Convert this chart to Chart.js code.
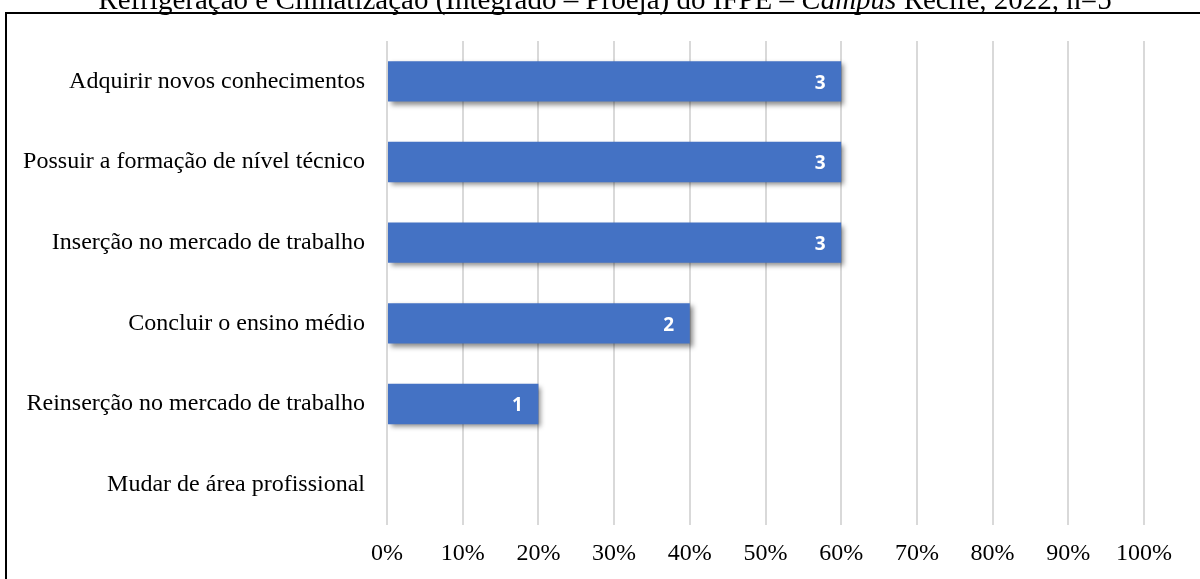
<!DOCTYPE html>
<html lang="pt-BR">
<head>
<meta charset="utf-8">
<title>Motivos para cursar</title>
<script src="https://cdn.jsdelivr.net/npm/chart.js@4.4.1/dist/chart.umd.min.js"></script>
<style>
  html, body { margin: 0; padding: 0; background: #fff; }
  #wrap { width: 1200px; height: 579px; position: relative; }
</style>
</head>
<body>
<div id="wrap"><canvas id="grafico" width="1200" height="579"></canvas></div>
<script>
// dados
const categorias = [
    'Adquirir novos conhecimentos',
    'Possuir a formação de nível técnico',
    'Inserção no mercado de trabalho',
    'Concluir o ensino médio',
    'Reinserção no mercado de trabalho',
    'Mudar de área profissional'
];
const respostas = [3, 3, 3, 2, 1, 0]; // quantidade de alunos
const totalAlunos = 5;
const ticksX = ['0%', '10%', '20%', '30%', '40%', '50%', '60%', '70%', '80%', '90%', '100%'];
const tituloPartes = [
    { texto: 'Refrigeração e Climatização (Integrado – Proeja) do IFPE – ', italico: false },
    { texto: 'Campus', italico: true },
    { texto: ' Recife, 2022, n=5', italico: false }
];

const porcentagens = respostas.map(r => r / totalAlunos * 100);

const serif = '"Liberation Serif", "Times New Roman", serif';

// moldura e titulo cortado no topo
const molduraPlugin = {
    id: 'moldura',
    afterDraw(chart) {
        const ctx = chart.ctx;
        ctx.save();
        ctx.strokeStyle = '#000';
        ctx.lineWidth = 2;
        ctx.strokeRect(6, 13, 1240, 620);

        const tam = 29;
        let largura = 0;
        tituloPartes.forEach(p => {
            ctx.font = (p.italico ? 'italic ' : '') + tam + 'px ' + serif;
            largura += ctx.measureText(p.texto).width;
        });
        let x = 605 - largura / 2;
        ctx.fillStyle = '#000';
        ctx.textBaseline = 'alphabetic';
        ctx.textAlign = 'left';
        tituloPartes.forEach(p => {
            ctx.font = (p.italico ? 'italic ' : '') + tam + 'px ' + serif;
            ctx.fillText(p.texto, x, 9);
            x += ctx.measureText(p.texto).width;
        });
        ctx.restore();
    }
};

// sombra das barras
const sombraPlugin = {
    id: 'sombra',
    beforeDatasetsDraw(chart) {
        const ctx = chart.ctx;
        ctx.save();
        ctx.shadowColor = 'rgba(0,0,0,0.45)';
        ctx.shadowBlur = 5;
        ctx.shadowOffsetX = 3;
        ctx.shadowOffsetY = 3;
    },
    afterDatasetsDraw(chart) {
        chart.ctx.restore();
        // rotulos dentro da barra
        const ctx = chart.ctx;
        ctx.save();
        ctx.font = 'bold 19px "Open Sans", "DejaVu Sans", sans-serif';
        ctx.fillStyle = '#fff';
        ctx.textAlign = 'center';
        ctx.textBaseline = 'middle';
        chart.getDatasetMeta(0).data.forEach((barra, i) => {
            if (respostas[i] > 0) {
                ctx.fillText(String(respostas[i]), barra.x - 21, barra.y + 2);
            }
        });
        ctx.restore();
    }
};

const ctx = document.getElementById('grafico').getContext('2d');

new Chart(ctx, {
    type: 'bar',
    data: {
        labels: categorias,
        datasets: [{
            data: porcentagens,
            backgroundColor: '#4472C4',
            borderWidth: 0,
            barPercentage: 0.5,
            categoryPercentage: 1.0
        }]
    },
    options: {
        indexAxis: 'y',
        responsive: false,
        animation: false,
        devicePixelRatio: 1,
        layout: {
            padding: { top: 41, right: 56, left: 0, bottom: 0 }
        },
        scales: {
            x: {
                min: 0,
                max: 100,
                ticks: {
                    stepSize: 10,
                    color: '#000',
                    font: { family: serif, size: 24 },
                    padding: 14,
                    callback: (v, i) => ticksX[i]
                },
                grid: {
                    color: '#d9d9d9',
                    lineWidth: 2,
                    drawTicks: false
                },
                border: { display: false },
                afterFit(scale) { scale.height = 54; }
            },
            y: {
                ticks: {
                    color: '#000',
                    font: { family: serif, size: 24 },
                    padding: 22
                },
                grid: { display: false, drawTicks: false },
                border: { display: false },
                afterFit(scale) { scale.width = 387; }
            }
        },
        plugins: {
            legend: { display: false },
            tooltip: { enabled: false }
        }
    },
    plugins: [sombraPlugin, molduraPlugin]
});
</script>
</body>
</html>
